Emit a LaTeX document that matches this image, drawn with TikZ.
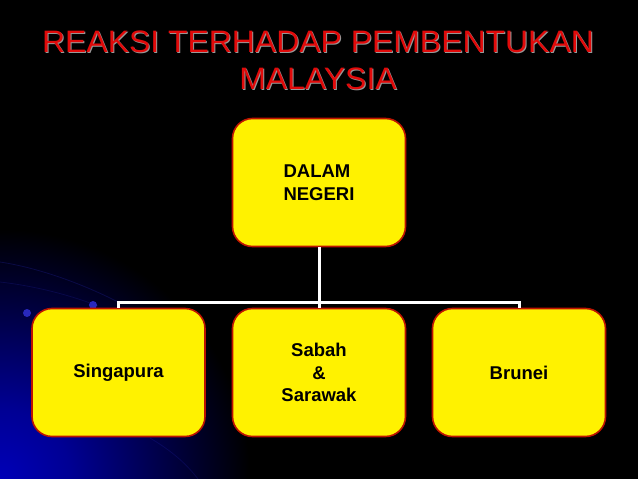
\documentclass[tikz,border=0pt]{standalone}
\usepackage{fontspec}
\setmainfont{Liberation Sans}
\newfontfamily\titlefont[FakeStretch=1.03]{Liberation Sans}
\pgfdeclareradialshading{glow}{\pgfpoint{0bp}{0bp}}{rgb(0bp)=(0,0,0.72); rgb(7bp)=(0,0,0.58); rgb(15bp)=(0,0,0.32); rgb(25bp)=(0,0,0); rgb(50bp)=(0,0,0)}
\definecolor{boxred}{RGB}{190,20,0}
\definecolor{titlered}{RGB}{225,10,10}
\definecolor{dotblue}{RGB}{40,40,190}
\tikzset{
  box/.style={rectangle, rounded corners=20pt, fill=yellow, draw=boxred, line width=1.6pt,
    minimum width=173pt, minimum height=128pt, font=\fontsize{18.5}{22.5}\selectfont\bfseries, text=black},
  conn/.style={draw=white, line width=3pt},
  ttl/.style={font=\titlefont\fontsize{31}{33}\selectfont, text=titlered},
  ttlshadow/.style={font=\titlefont\fontsize{31}{33}\selectfont, text=black!40}
}
\begin{document}
\begin{tikzpicture}[x=1pt,y=-1pt]
  \useasboundingbox (0,0) rectangle (638,479);
  \fill[black] (0,0) rectangle (638,479);
  \begin{scope}
    \clip (0,0) rectangle (638,479);
    \shade[shading=glow] (0,479) circle (250);
    \draw[dotblue, opacity=0.25, line width=0.8pt] (0,262) .. controls (40,268) and (85,285) .. (118,302);
    \draw[dotblue, opacity=0.2, line width=0.8pt] (0,282) .. controls (35,286) and (70,295) .. (98,306);
    \draw[dotblue, opacity=0.2, line width=0.8pt] (150,438) .. controls (170,450) and (185,462) .. (198,479);
    \fill[dotblue] (27,313) circle (4);
    \fill[dotblue] (93,305) circle (4);
  \end{scope}
  % title
  \node[ttlshadow] (t1s) at (319,43) {REAKSI TERHADAP PEMBENTUKAN};
  \node[ttl] (t1) at (318,42) {REAKSI TERHADAP PEMBENTUKAN};
  \node[ttlshadow] (t2s) at (319,80) {MALAYSIA};
  \node[ttl] (t2) at (318,79) {MALAYSIA};
  % boxes
  \node[box, align=left] (top) at (319,182.5) {DALAM\\NEGERI};
  \node[box] (sing) at (118.5,372.5) {Singapura};
  \node[box, align=center] (sab) at (319,372.5) {Sabah\\\&\\Sarawak};
  \node[box] (bru) at (519,372.5) {Brunei};
  % connectors
  \coordinate (bus) at (319,302);
  \draw[conn] (top.south) -- (sab.north);
  \draw[conn] (sing.north) -- (sing.north |- bus) -- (bru.north |- bus) -- (bru.north);
\end{tikzpicture}
\end{document}
